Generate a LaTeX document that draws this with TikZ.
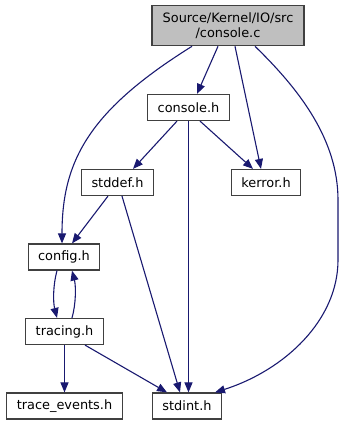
\documentclass[tikz,border=0pt]{standalone}
\usepackage{fontspec}
\setmainfont{DejaVu Sans}
\usetikzlibrary{arrows.meta}
\definecolor{edgeblue}{HTML}{191970}
\definecolor{rootgray}{HTML}{BFBFBF}

\begin{document}
\begin{tikzpicture}[x=1pt, y=-1pt,
  font = \fontsize{12.9}{15}\selectfont,
  file/.style     = {rectangle, draw=black!75, line width=1.2pt, fill=white, inner xsep=10pt, inner ysep=0pt, minimum height=26pt, text centered},
  mainfile/.style = {file, fill=rootgray, minimum width=152pt, minimum height=40pt, align=center},
  dep/.style      = {edgeblue, line width=1.1pt, -{Triangle[length=10pt, width=8pt]}},
  ]
  \useasboundingbox (0,0) rectangle (345,425);
  \node[mainfile] (root)    at (228,25.7)  {Source/Kernel/IO/src\\/console.c};
  \node[file]     (console) at (188.5,107.5) {console.h};
  \node[file]     (stddef)  at (117.5,182.5) {stddef.h};
  \node[file]     (kerror)  at (266,182.5) {kerror.h};
  \node[file]     (config)  at (64,257)    {config.h};
  \node[file]     (tracing) at (64.5,331.5) {tracing.h};
  \node[file]     (events)  at (64.5,406)  {trace\_events.h};
  \node[file]     (stdint)  at (187,406)   {stdint.h};
  % includes of console.c
  \draw[dep] ([xshift=-10pt]root.south) -- ([xshift=8.5pt]console.north);
  \draw[dep] ([xshift=-36pt]root.south) .. controls (90,110) and (62,160) .. ([xshift=-2pt]config.north);
  \draw[dep] ([xshift=7pt]root.south) -- ([xshift=-5pt]kerror.north);
  \draw[dep] ([xshift=27pt]root.south) .. controls (300,90) and (338,140) .. (338,200)
    -- (338,260) .. controls (338,320) and (285,370) .. ([xshift=28pt]stdint.north);
  % includes of the headers
  \draw[dep] ([xshift=-11.5pt]console.south) -- ([xshift=15.5pt]stddef.north);
  \draw[dep] ([xshift=11.5pt]console.south) -- ([xshift=-13pt]kerror.north);
  \draw[dep] (console.south) -- ([xshift=1.5pt]stdint.north);
  \draw[dep] ([xshift=-9.5pt]stddef.south) -- ([xshift=8pt]config.north);
  \draw[dep] ([xshift=4.5pt]stddef.south) -- ([xshift=-7pt]stdint.north);
  \draw[dep] ([xshift=-7pt]config.south) .. controls (53,285) and (53,302) .. ([xshift=-7.5pt]tracing.north);
  \draw[dep] ([xshift=7.5pt]tracing.north) .. controls (76,304) and (76,286) .. ([xshift=8pt]config.south);
  \draw[dep] (tracing.south) -- (events.north);
  \draw[dep] ([xshift=20.5pt]tracing.south) -- ([xshift=-20pt]stdint.north);
\end{tikzpicture}
\end{document}
